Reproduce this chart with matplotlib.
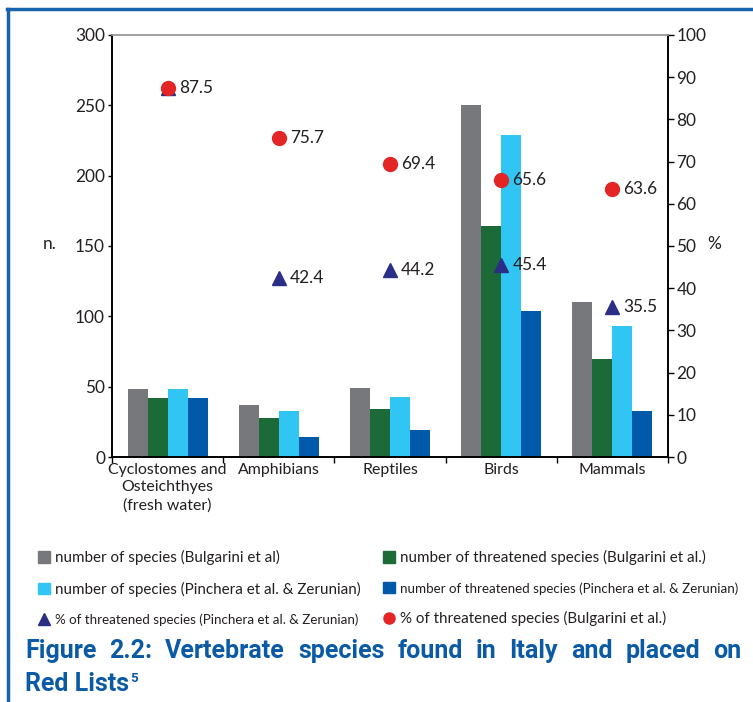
import numpy as np
import matplotlib.pyplot as plt
from matplotlib.lines import Line2D
from matplotlib.patches import Patch
from matplotlib import font_manager

names = [f.name for f in font_manager.fontManager.ttflist]
base_font = 'Lato' if 'Lato' in names else 'DejaVu Sans'
cap_font = 'Roboto' if 'Roboto' in names else 'DejaVu Sans'
plt.rcParams['font.family'] = [base_font, 'DejaVu Sans']

categories = ['Cyclostomes and\nOsteichthyes\n(fresh water)', 'Amphibians', 'Reptiles', 'Birds', 'Mammals']
species_bulgarini = [48, 37, 49, 250, 110]
threatened_bulgarini = [42, 28, 34, 164, 70]
species_pinchera = [48, 33, 43, 229, 93]
threatened_pinchera = [42, 14, 19, 104, 33]
pct_pinchera = [87.5, 42.4, 44.2, 45.4, 35.5]
pct_bulgarini = [87.5, 75.7, 69.4, 65.6, 63.6]

c_gray = '#77787b'
c_green = '#1b6a37'
c_cyan = '#31c5f4'
c_blue = '#0159a9'
c_navy = '#2b2e85'
c_red = '#e32526'
c_border = '#1763ae'
c_text = '#231f20'
c_cap = '#0b5aa6'

W, H = 753, 702
fig = plt.figure(figsize=(W / 100, H / 100), dpi=100)
ax = fig.add_axes([112 / W, 1 - 457 / H, 556 / W, 422 / H])
ax2 = ax.twinx()

x = np.arange(len(categories))
w = 0.18
series = [species_bulgarini, threatened_bulgarini, species_pinchera, threatened_pinchera]
colors = [c_gray, c_green, c_cyan, c_blue]
for i, (vals, col) in enumerate(zip(series, colors)):
    ax.bar(x + (i - 1.5) * w, vals, w, color=col, zorder=2)

fs = 12.4
ax.set_xlim(-0.5, 4.5)
ax.set_ylim(0, 300)
ax.set_yticks(range(0, 301, 50))
ax.set_xticks(np.arange(-0.5, 5, 1))
ax.set_xticklabels([])
ax.set_xticks(x, minor=True)
ax.set_xticklabels(categories, minor=True, fontsize=11.4, color=c_text, linespacing=1.35)
ax.tick_params(axis='x', which='minor', length=0, pad=4)
ax.tick_params(axis='x', which='major', length=4, direction='out', width=1)
ax.tick_params(axis='y', length=3, width=1, labelsize=fs, labelcolor=c_text, pad=2)

ax2.set_ylim(0, 100)
ax2.set_yticks(range(0, 101, 10))
ax2.tick_params(axis='y', length=4, width=1, labelsize=fs, labelcolor=c_text, pad=2)

for a in (ax, ax2):
    a.spines['top'].set_color('#a0a0a0')
    a.spines['top'].set_linewidth(1.2)
    for s in ('left', 'right', 'bottom'):
        a.spines[s].set_color('black')
        a.spines[s].set_linewidth(1.2)

ax2.plot(x, pct_pinchera, linestyle='none', marker='^', markersize=10.5, color=c_navy, zorder=3)
ax2.plot(x, pct_bulgarini, linestyle='none', marker='o', markersize=10, color=c_red, zorder=4)
for xi, v in zip(x, pct_bulgarini):
    ax2.annotate(f'{v}', (xi, v), xytext=(8, 0), textcoords='offset points',
                 va='center', ha='left', fontsize=fs, color=c_text)
for xi, v in zip(x[1:], pct_pinchera[1:]):
    ax2.annotate(f'{v}', (xi, v), xytext=(8, 0), textcoords='offset points',
                 va='center', ha='left', fontsize=fs, color=c_text)

fig.text(43 / W, 1 - 244 / H, 'n.', fontsize=fs, ha='left', va='center', color=c_text)
fig.text(707 / W, 1 - 244 / H, '%', fontsize=fs, ha='left', va='center', color=c_text)

h_gray = Patch(color=c_gray)
h_green = Patch(color=c_green)
h_cyan = Patch(color=c_cyan)
h_blue = Patch(color=c_blue)
h_tri = Line2D([], [], linestyle='none', marker='^', markersize=8, color=c_navy)
h_dot = Line2D([], [], linestyle='none', marker='o', markersize=8, color=c_red)

leg_kw = dict(loc='upper left', frameon=False, fontsize=10.9, handlelength=0.8, handleheight=0.8,
              handletextpad=0.35, labelspacing=1.1, borderpad=0, borderaxespad=0)
leg1 = fig.legend([h_gray, h_cyan, h_tri],
                  ['number of species (Bulgarini et al)',
                   'number of species (Pinchera et al. & Zerunian)',
                   '% of threatened species (Pinchera et al. & Zerunian)'],
                  bbox_to_anchor=(38 / W, 1 - 550 / H), **leg_kw)
leg2 = fig.legend([h_green, h_blue, h_dot],
                  ['number of threatened species (Bulgarini et al.)',
                   'number of threatened species (Pinchera et al. & Zerunian)',
                   '% of threatened species (Bulgarini et al.)'],
                  bbox_to_anchor=(383 / W, 1 - 550 / H), **leg_kw)
leg1.get_texts()[2].set_fontsize(9.6)
leg2.get_texts()[1].set_fontsize(9.6)
for leg in (leg1, leg2):
    for t in leg.get_texts():
        t.set_color(c_text)

# caption, justified word by word on the first line
r = fig.canvas.get_renderer()
cap_words = 'Figure 2.2: Vertebrate species found in Italy and placed on'.split()
cap_fs = 18
x0, x1 = 25, 741
y1, y2 = 1 - 651 / H, 1 - 684 / H
texts = [fig.text(0, y1, wd, fontsize=cap_fs, fontweight='bold', family=cap_font,
                  color=c_cap, va='center', ha='left') for wd in cap_words]
widths = [t.get_window_extent(r).width for t in texts]
gap = (x1 - x0 - sum(widths)) / (len(cap_words) - 1)
pos = x0
for t, wd in zip(texts, widths):
    t.set_x(pos / W)
    pos += wd + gap
red = fig.text(x0 / W, y2, 'Red Lists', fontsize=cap_fs, fontweight='bold', family=cap_font,
               color=c_cap, va='center', ha='left')
rw = red.get_window_extent(r).width
fig.text((x0 + rw + 1) / W, y2 + 5 / H, '5', fontsize=9.5, fontweight='bold', family=cap_font,
         color=c_cap, va='center', ha='left')

fig.add_artist(Line2D([7 / W, 1], [1 - 9 / H, 1 - 9 / H], color=c_border, linewidth=2.5))
fig.add_artist(Line2D([8 / W, 8 / W], [0, 1 - 9 / H], color=c_border, linewidth=2.5))

fig.savefig('out.png', dpi=100)
